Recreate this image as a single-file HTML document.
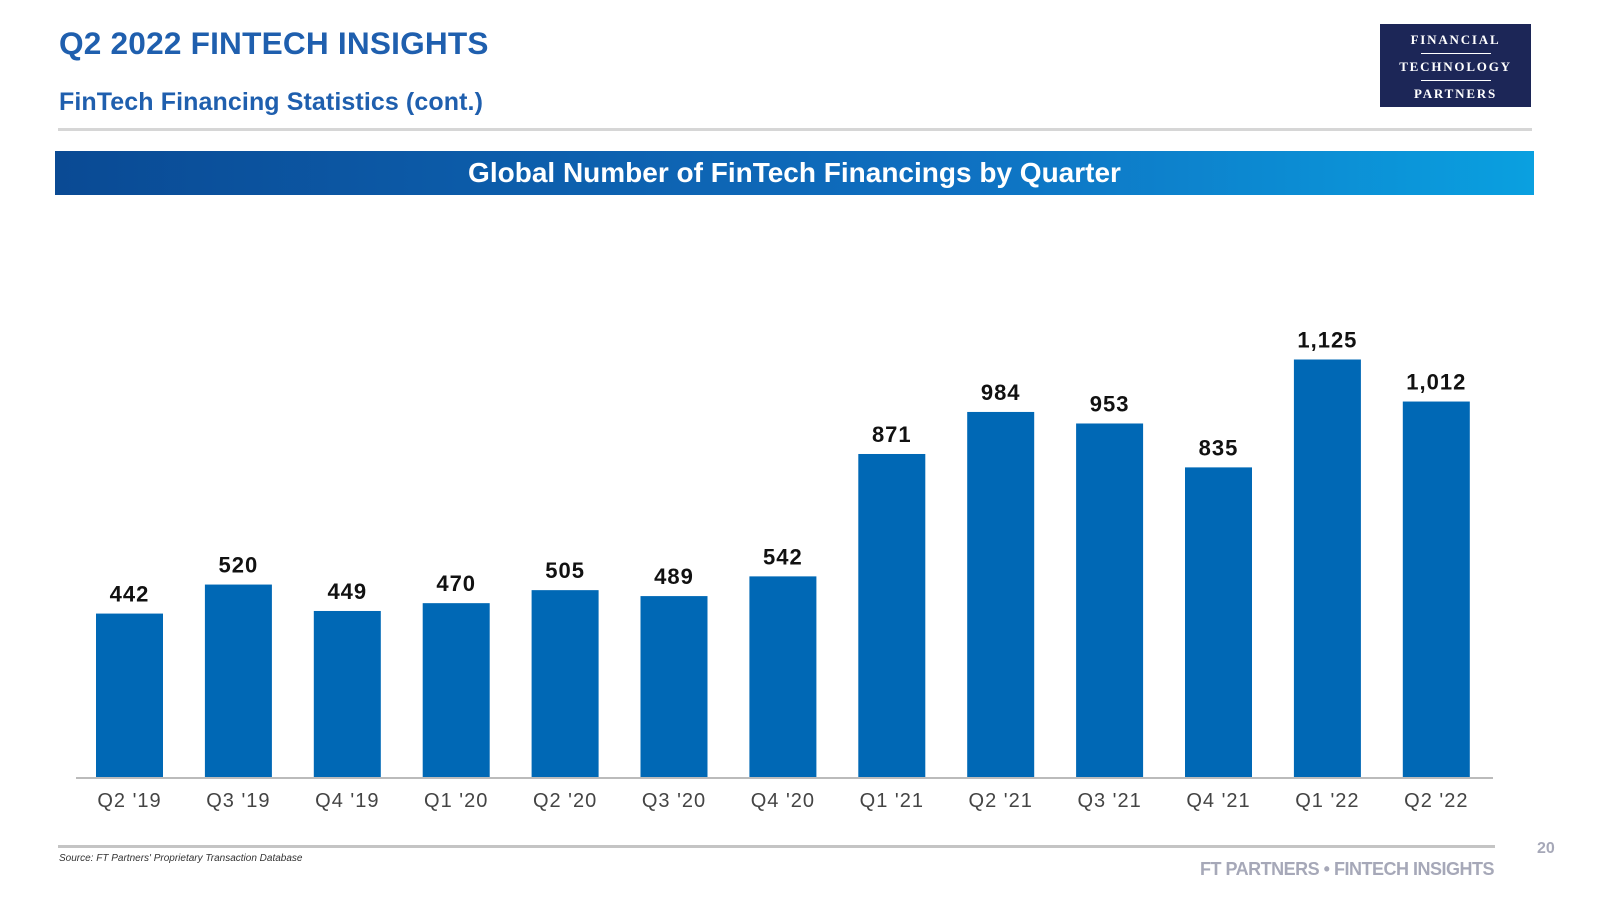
<!DOCTYPE html>
<html><head><meta charset="utf-8"><style>
body{margin:0;width:1600px;height:900px;background:#fff;font-family:"Liberation Sans",sans-serif;position:relative;overflow:hidden}
.a{position:absolute}
</style></head><body>
<div class="a" style="left:59px;top:25px;font-size:31.6px;font-weight:bold;color:#1f5fae;letter-spacing:0.2px">Q2 2022 FINTECH INSIGHTS</div>
<div class="a" style="left:59px;top:88px;font-size:25px;font-weight:bold;color:#1f5fae;letter-spacing:0.1px">FinTech Financing Statistics (cont.)</div>
<div class="a" style="left:1380px;top:24px;width:151px;height:83px;background:#1c2657;color:#fff;font-family:'Liberation Serif',serif;font-weight:bold;font-size:13px;letter-spacing:1.8px;text-align:center">
<div style="margin-top:8px">FINANCIAL</div><div style="width:70px;height:1px;background:#fff;margin:5px auto"></div><div>TECHNOLOGY</div><div style="width:70px;height:1px;background:#fff;margin:5px auto"></div><div>PARTNERS</div></div>
<div class="a" style="left:58px;top:128px;width:1474px;height:3px;background:#d6d6d6"></div>
<div class="a" style="left:55px;top:151px;width:1479px;height:44px;background:linear-gradient(90deg,#0a4a94,#0f6fc0 60%,#0aa0e0);color:#fff;font-size:28px;font-weight:bold;text-align:center;line-height:44px">Global Number of FinTech Financings by Quarter</div>
<svg class="a" style="left:0;top:0" width="1600" height="900" id="ch"></svg>
<div class="a" style="left:58px;top:845px;width:1437px;height:3px;background:#c4c4c4"></div>
<div class="a" style="left:59px;top:853px;font-size:10px;font-style:italic;color:#333">Source: FT Partners' Proprietary Transaction Database</div>
<div class="a" style="right:106px;top:859px;font-size:18px;font-weight:bold;color:#a6a8b8;letter-spacing:-0.5px">FT PARTNERS • FINTECH INSIGHTS</div>
<div class="a" style="left:1537px;top:840px;font-size:16px;font-weight:bold;color:#a6a8b8">20</div>
<script>
const categories=["Q2 '19","Q3 '19","Q4 '19","Q1 '20","Q2 '20","Q3 '20","Q4 '20","Q1 '21","Q2 '21","Q3 '21","Q4 '21","Q1 '22","Q2 '22"];
const values=[442,520,449,470,505,489,542,871,984,953,835,1125,1012];
const labels=["442","520","449","470","505","489","542","871","984","953","835","1,125","1,012"];
const svg=document.getElementById('ch');const NS='http://www.w3.org/2000/svg';
const baseY=778,scale=0.372,x0=96,pitch=108.9,bw=67;
const y=v=>baseY-v*scale;const x=i=>x0+i*pitch;
function mk(t,a){const e=document.createElementNS(NS,t);for(const k in a)e.setAttribute(k,a[k]);svg.appendChild(e);return e;}
values.forEach((v,i)=>{
const r=mk('rect',{x:x(i),y:y(v),width:bw,height:baseY-y(v),fill:'#0068b5'});


const t=mk('text',{x:x(i)+bw/2,y:y(v)-12,'text-anchor':'middle','font-size':22,'font-weight':'bold',fill:'#111','letter-spacing':1,'font-family':'Liberation Sans, sans-serif'});t.textContent=labels[i];


const c=mk('text',{x:x(i)+bw/2,y:807,'text-anchor':'middle','font-size':20,fill:'#444','letter-spacing':1,'font-family':'Liberation Sans, sans-serif'});c.textContent=categories[i];


});
const ax=mk('line',{x1:76,x2:1493,y1:baseY,y2:baseY,stroke:'#bbb','stroke-width':2});


</script>
</body></html>
